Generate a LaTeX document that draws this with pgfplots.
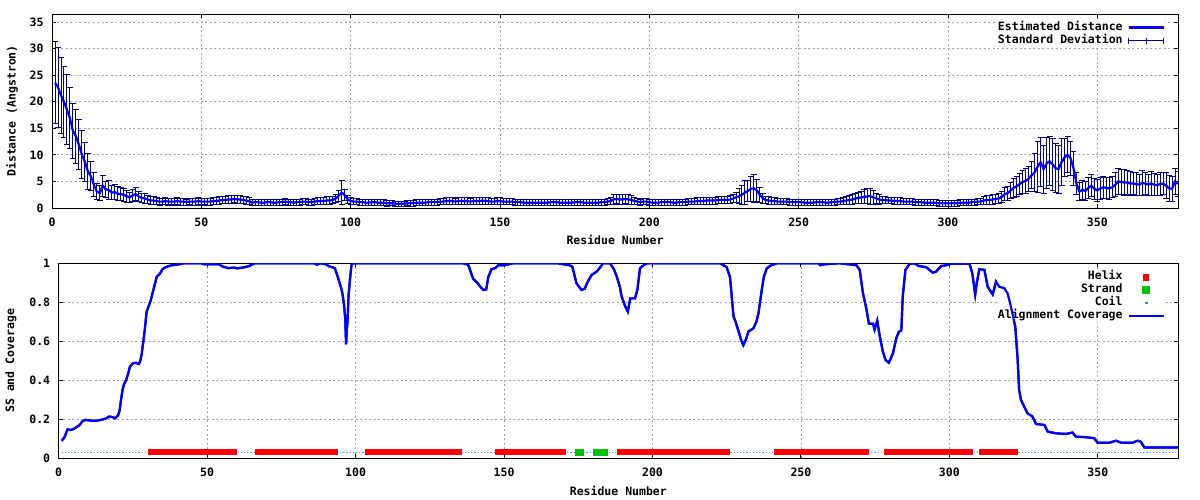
\documentclass[border=0pt]{standalone}
\usepackage{fontspec}
\setmainfont{DejaVu Sans Mono}
\usepackage{pgfplots}
\usepackage{pgfplotstable}
\pgfplotsset{compat=1.18}
\definecolor{lineblue}{RGB}{0,0,255}
\definecolor{barblue}{RGB}{0,0,139}
\definecolor{coilblue}{RGB}{30,144,255}
\definecolor{strandgreen}{RGB}{0,192,0}
\definecolor{helixred}{RGB}{255,0,0}
\definecolor{gridgray}{RGB}{160,160,160}

\pgfplotstableread{
x y e
1 23.6 7.7
2 22.7 7.5
3 21.2 7.1
4 20.0 6.7
5 18.5 6.6
6 16.9 5.7
7 14.5 5.2
8 13.5 5.1
9 11.9 4.7
10 10.1 4.5
11 8.7 3.7
12 6.9 3.4
13 6.0 2.7
14 4.4 2.3
15 3.1 1.5
16 2.8 1.4
17 4.2 2.0
18 3.5 1.5
19 3.4 1.8
20 2.9 1.3
21 3.0 1.4
22 2.7 1.3
23 2.6 1.2
24 2.5 1.2
25 2.2 1.1
26 2.0 1.0
27 2.4 1.1
28 2.6 1.2
29 2.2 1.0
30 1.9 0.9
31 1.8 0.9
32 1.6 0.8
33 1.4 0.7
34 1.4 0.7
35 1.3 0.65
36 1.2 0.65
37 1.2 0.6
38 1.3 0.65
39 1.2 0.65
40 1.2 0.6
41 1.2 0.65
42 1.3 0.7
43 1.2 0.65
44 1.2 0.65
45 1.1 0.6
46 1.2 0.6
47 1.2 0.65
48 1.2 0.65
49 1.3 0.7
50 1.2 0.65
51 1.2 0.6
52 1.2 0.65
53 1.2 0.65
54 1.3 0.7
55 1.3 0.65
56 1.4 0.7
57 1.5 0.7
58 1.5 0.7
59 1.6 0.7
60 1.6 0.75
61 1.7 0.75
62 1.6 0.75
63 1.6 0.7
64 1.5 0.7
65 1.4 0.7
66 1.3 0.65
67 1.0 0.6
68 1.1 0.6
69 1.1 0.6
70 1.0 0.6
71 1.0 0.6
72 1.1 0.6
73 1.1 0.6
74 1.0 0.6
75 1.0 0.6
76 1.1 0.6
77 1.1 0.6
78 1.2 0.6
79 1.1 0.6
80 1.1 0.6
81 1.0 0.6
82 1.1 0.6
83 1.1 0.6
84 1.2 0.6
85 1.2 0.6
86 1.1 0.6
87 1.1 0.6
88 1.2 0.6
89 1.3 0.65
90 1.3 0.65
91 1.3 0.7
92 1.4 0.7
93 1.4 0.7
94 1.5 0.7
95 1.8 0.8
96 2.3 1.0
97 2.9 2.3
98 2.4 1.0
99 1.6 0.7
100 1.3 0.6
101 1.2 0.55
102 1.2 0.55
103 1.1 0.55
104 1.1 0.55
105 1.0 0.55
106 1.0 0.55
107 1.1 0.55
108 1.1 0.55
109 1.0 0.55
110 1.0 0.55
111 1.0 0.55
112 0.9 0.55
113 0.9 0.5
114 0.9 0.5
115 0.8 0.5
116 0.8 0.5
117 0.8 0.5
118 0.8 0.5
119 0.9 0.5
120 0.9 0.55
121 0.9 0.55
122 1.0 0.55
123 1.0 0.55
124 1.0 0.55
125 1.0 0.55
126 1.1 0.55
127 1.1 0.55
128 1.1 0.55
129 1.1 0.6
130 1.2 0.6
131 1.2 0.6
132 1.3 0.6
133 1.3 0.6
134 1.3 0.6
135 1.2 0.6
136 1.3 0.6
137 1.3 0.6
138 1.3 0.6
139 1.3 0.6
140 1.2 0.6
141 1.3 0.6
142 1.3 0.6
143 1.3 0.6
144 1.4 0.65
145 1.3 0.6
146 1.3 0.6
147 1.2 0.6
148 1.2 0.6
149 1.3 0.6
150 1.3 0.6
151 1.2 0.6
152 1.2 0.6
153 1.2 0.6
154 1.2 0.6
155 1.1 0.55
156 1.1 0.55
157 1.1 0.55
158 1.0 0.55
159 1.0 0.55
160 1.0 0.55
161 1.0 0.55
162 1.0 0.55
163 1.0 0.55
164 1.0 0.55
165 1.0 0.55
166 1.0 0.55
167 1.1 0.55
168 1.1 0.55
169 1.1 0.55
170 1.0 0.55
171 1.0 0.55
172 1.0 0.55
173 1.0 0.55
174 1.0 0.55
175 1.1 0.55
176 1.1 0.55
177 1.1 0.55
178 1.0 0.55
179 1.0 0.55
180 1.0 0.55
181 1.0 0.55
182 1.0 0.55
183 1.0 0.55
184 1.1 0.55
185 1.1 0.6
186 1.2 0.6
187 1.3 0.7
188 1.6 0.9
189 1.7 0.9
190 1.6 0.9
191 1.6 0.9
192 1.7 0.9
193 1.6 0.9
194 1.5 0.8
195 1.3 0.7
196 1.2 0.6
197 1.1 0.6
198 1.2 0.6
199 1.2 0.6
200 1.1 0.6
201 1.0 0.6
202 1.0 0.6
203 1.0 0.6
204 1.1 0.6
205 1.1 0.6
206 1.1 0.6
207 1.1 0.6
208 1.0 0.6
209 1.0 0.6
210 1.1 0.6
211 1.1 0.6
212 1.1 0.6
213 1.2 0.6
214 1.2 0.6
215 1.2 0.6
216 1.3 0.6
217 1.3 0.6
218 1.3 0.6
219 1.4 0.65
220 1.4 0.65
221 1.4 0.65
222 1.4 0.65
223 1.5 0.7
224 1.5 0.7
225 1.5 0.7
226 1.5 0.7
227 1.6 0.7
228 1.8 0.8
229 2.0 1.0
230 2.2 1.4
231 2.5 1.8
232 2.9 2.2
233 3.2 2.0
234 3.6 2.4
235 3.7 2.6
236 3.3 2.0
237 2.5 1.4
238 1.8 0.9
239 1.5 0.7
240 1.4 0.7
241 1.3 0.6
242 1.3 0.6
243 1.2 0.6
244 1.2 0.6
245 1.2 0.6
246 1.2 0.6
247 1.1 0.6
248 1.1 0.6
249 1.1 0.6
250 1.1 0.6
251 1.1 0.6
252 1.0 0.6
253 1.0 0.6
254 1.0 0.6
255 1.0 0.6
256 1.1 0.6
257 1.1 0.6
258 1.1 0.6
259 1.0 0.6
260 1.0 0.6
261 1.1 0.6
262 1.1 0.6
263 1.2 0.6
264 1.2 0.6
265 1.3 0.65
266 1.4 0.8
267 1.5 0.85
268 1.6 0.9
269 1.8 0.9
270 1.9 1.0
271 2.0 1.2
272 2.1 1.3
273 2.2 1.4
274 2.2 1.5
275 2.0 1.3
276 1.8 1.0
277 1.6 0.9
278 1.5 0.7
279 1.5 0.7
280 1.4 0.6
281 1.4 0.6
282 1.3 0.6
283 1.3 0.6
284 1.3 0.6
285 1.2 0.6
286 1.2 0.6
287 1.2 0.6
288 1.2 0.6
289 1.1 0.6
290 1.1 0.6
291 1.1 0.6
292 1.0 0.6
293 1.0 0.6
294 1.0 0.6
295 1.0 0.6
296 1.0 0.6
297 0.9 0.6
298 0.9 0.6
299 0.9 0.6
300 0.9 0.6
301 0.9 0.6
302 0.9 0.6
303 0.9 0.6
304 1.0 0.6
305 1.0 0.6
306 1.0 0.6
307 1.0 0.6
308 1.1 0.6
309 1.1 0.6
310 1.2 0.6
311 1.2 0.6
312 1.4 0.8
313 1.5 0.8
314 1.5 0.9
315 1.6 0.9
316 1.7 0.9
317 1.8 1.0
318 2.1 1.1
319 2.6 1.2
320 2.8 1.3
321 3.3 1.5
322 3.8 1.8
323 4.1 1.9
324 4.5 2.0
325 4.9 2.2
326 5.1 2.3
327 5.5 2.4
328 6.2 2.6
329 6.7 3.5
330 7.8 4.8
331 8.6 4.6
332 7.3 4.5
333 8.4 4.8
334 8.8 4.6
335 8.2 4.9
336 7.5 4.6
337 7.3 4.5
338 8.6 4.4
339 9.5 3.5
340 10.0 3.4
341 9.4 3.2
342 7.5 3.2
343 4.6 2.0
344 3.1 1.7
345 3.4 1.7
346 3.2 1.8
347 3.8 2.0
348 4.2 2.1
349 3.6 2.0
350 3.3 2.0
351 3.7 2.0
352 3.9 2.1
353 3.8 2.0
354 3.7 2.0
355 3.9 2.0
356 4.4 2.2
357 5.0 2.4
358 4.9 2.3
359 4.8 2.4
360 4.8 2.3
361 4.6 2.2
362 4.6 2.0
363 4.5 2.2
364 4.4 2.0
365 4.7 2.4
366 4.6 2.1
367 4.4 2.0
368 4.6 2.2
369 4.4 2.1
370 4.3 2.0
371 4.5 2.2
372 4.6 2.0
373 4.2 2.4
374 3.7 2.5
375 3.6 2.3
376 5.0 2.5
377 4.5 2.4
}\distdata

\pgfplotstableread{
x y
1 0.089
2 0.11
3 0.149
4 0.145
5 0.15
6 0.16
7 0.17
8 0.19
9 0.197
10 0.195
11 0.193
13 0.193
15 0.2
16 0.205
17 0.214
18 0.212
19 0.205
20 0.22
20.5 0.244
21 0.30
21.5 0.35
22 0.38
22.7 0.40
23.5 0.44
24 0.47
25 0.487
26 0.49
27 0.484
27.5 0.50
28 0.54
28.5 0.60
29 0.66
29.6 0.75
30.3 0.78
31 0.81
32 0.87
32.5 0.90
33 0.93
34 0.945
35 0.97
36 0.98
38 0.99
40 0.993
42 1.0
48 1.0
49 0.995
54 0.995
55 0.985
57 0.975
59 0.978
60 0.974
62 0.978
64 0.985
66 1.0
86 1.0
87 0.993
88 1.0
90 0.995
91 0.985
93 0.975
94 0.93
95 0.88
95.5 0.85
96 0.80
96.5 0.72
96.8 0.585
97 0.66
97.3 0.70
97.6 0.83
98.1 0.915
98.6 0.99
99 1.0
136 1.0
137 0.997
138 0.99
139.6 0.92
141 0.90
142 0.88
143 0.863
144 0.866
144.7 0.93
145.8 0.97
147 0.975
148 0.99
150 0.99
153 1.0
168 1.0
172 0.99
173 0.983
174.4 0.897
176.1 0.863
177.2 0.87
178 0.9
179.5 0.94
181 0.955
181.7 0.966
183.4 1.0
185.7 1.0
187 0.97
188 0.93
189 0.88
189.6 0.83
190.8 0.78
191.7 0.752
192.5 0.82
194.1 0.82
194.9 0.863
195.8 0.975
197 0.99
198.1 1.0
222.8 1.0
225 0.98
226.1 0.93
227.3 0.727
228 0.70
229 0.65
230 0.60
230.6 0.58
231.5 0.61
232.3 0.65
234 0.667
235 0.70
235.7 0.744
236.8 0.863
237.5 0.93
238.5 0.975
240 0.99
241.9 1.0
256 1.0
256.5 0.99
258 0.995
263 1.0
268.7 0.99
269.8 0.966
270.9 0.846
272 0.77
272.9 0.69
274.3 0.69
274.8 0.66
275.7 0.706
276.5 0.63
277.6 0.547
278.5 0.504
279.6 0.49
281 0.538
282.1 0.615
283 0.65
283.8 0.655
284.3 0.83
285.2 0.966
286.6 0.997
288.2 1.0
289.7 0.986
292.2 0.98
294.4 0.952
295.5 0.957
297.2 0.986
298.9 0.99
300 0.997
306.8 0.997
307.7 0.95
308.2 0.897
308.7 0.84
309.2 0.897
310.1 0.97
311.8 0.966
312.9 0.88
314.6 0.84
315.7 0.906
316.8 0.88
318.5 0.872
319.6 0.846
320.7 0.78
322.2 0.675
323 0.504
323.5 0.35
324.1 0.30
325.2 0.265
326.3 0.231
328 0.214
329.2 0.176
332 0.171
333.1 0.137
335.9 0.128
339.3 0.125
341.5 0.132
342.6 0.111
346 0.108
348.8 0.103
349.9 0.08
353.9 0.08
356.1 0.09
357.8 0.08
361.7 0.08
363.4 0.09
364.5 0.085
365.7 0.055
377 0.055
}\covdata

\pgfplotsset{
  gp/.style={
    scale only axis,
    xmin=0, xmax=377,
    xtick={0,50,100,150,200,250,300,350},
    grid=major,
    grid style={gridgray, dash pattern=on 2pt off 2.5pt, line width=0.8pt},
    axis line style={line width=0.9pt},
    tick style={black, line width=0.9pt},
    major tick length=4pt,
    /pgf/number format/assume math mode=true,
    tick label style={font=\fontsize{11.5}{13}\selectfont\bfseries},
    label style={font=\fontsize{11.5}{13}\selectfont\bfseries},
    xticklabel style={yshift=-6.5pt},
    yticklabel style={xshift=-5pt},
    legend cell align=right,
    legend plot pos=right,
    legend style={at={(1,1)}, anchor=north east, xshift=-13pt, yshift=-7.5pt,
      draw=none, fill=white, inner sep=0pt,
      font=\fontsize{11.5}{13}\selectfont\bfseries,
      nodes={inner sep=0.5pt, text height=8.3pt, text depth=2.4pt},
      row sep=1.3pt, column sep=4.5pt},
  }
}

\begin{document}
\bfseries
\begin{tikzpicture}
\path[use as bounding box] (0,0) rectangle (1200pt,500pt);

\begin{axis}[gp,
  at={(52pt,292pt)}, anchor=south west,
  width=1126pt, height=194pt,
  ymin=0, ymax=36.5,
  ytick={0,5,10,15,20,25,30,35},
  xlabel={Residue Number},
  ylabel={Distance (Angstron)},
  xlabel style={at={(axis description cs:0.5,-0.165)}, anchor=center},
  ylabel style={at={(axis description cs:-0.0355,0.5)}, anchor=center},
]
\addlegendimage{legend image code/.code={\draw[lineblue, line width=2.2pt] (0pt,0pt)--(35pt,0pt);}}
\addlegendentry{Estimated Distance}
\addlegendimage{legend image code/.code={\draw[barblue, line width=0.9pt] (0pt,0pt)--(35pt,0pt) (0pt,-3pt)--(0pt,3pt) (17.5pt,-3pt)--(17.5pt,3pt) (35pt,-3pt)--(35pt,3pt);}}
\addlegendentry{Standard Deviation}

\addplot[draw=none, mark=none, forget plot,
  error bars/.cd, y dir=both, y explicit,
  error bar style={draw=barblue, line width=0.9pt},
  error mark options={draw=barblue, rotate=90, mark size=3pt, line width=0.9pt}]
  table[x=x, y=y, y error=e] {\distdata};
\addplot[lineblue, line width=2.2pt, forget plot] table[x=x, y=y] {\distdata};
\end{axis}

\begin{axis}[gp,
  at={(58.7pt,41.7pt)}, anchor=south west,
  width=1119.3pt, height=195pt,
  ymin=0, ymax=1,
  ytick={0,0.2,0.4,0.6,0.8,1},
  xlabel={Residue Number},
  ylabel={SS and Coverage},
  xlabel style={at={(axis description cs:0.5,-0.166)}, anchor=center},
  ylabel style={at={(axis description cs:-0.0426,0.5)}, anchor=center},
]
\addlegendimage{legend image code/.code={\fill[helixred] (15pt,-3pt) rectangle (20pt,3pt);}}
\addlegendentry{Helix}
\addlegendimage{legend image code/.code={\fill[strandgreen] (14pt,-3.5pt) rectangle (21pt,3.5pt);}}
\addlegendentry{Strand}
\addlegendimage{legend image code/.code={\fill[coilblue] (17pt,-0.6pt) rectangle (18.2pt,0.6pt);}}
\addlegendentry{Coil}
\addlegendimage{legend image code/.code={\draw[lineblue, line width=2.2pt] (0pt,0pt)--(35pt,0pt);}}
\addlegendentry{Alignment Coverage}

% coil
\addplot[coilblue, line width=1pt, dash pattern=on 1.2pt off 2pt, forget plot] coordinates {(1,0.03) (377,0.03)};
% helices
\addplot[helixred, line width=6pt, forget plot] coordinates {(30,0.03) (60,0.03)};
\addplot[helixred, line width=6pt, forget plot] coordinates {(66,0.03) (94,0.03)};
\addplot[helixred, line width=6pt, forget plot] coordinates {(103,0.03) (136,0.03)};
\addplot[helixred, line width=6pt, forget plot] coordinates {(147,0.03) (171,0.03)};
\addplot[helixred, line width=6pt, forget plot] coordinates {(188,0.03) (226,0.03)};
\addplot[helixred, line width=6pt, forget plot] coordinates {(241,0.03) (273,0.03)};
\addplot[helixred, line width=6pt, forget plot] coordinates {(278,0.03) (308,0.03)};
\addplot[helixred, line width=6pt, forget plot] coordinates {(310,0.03) (323,0.03)};
% strands
\addplot[strandgreen, line width=6.7pt, forget plot] coordinates {(174,0.03) (177,0.03)};
\addplot[strandgreen, line width=6.7pt, forget plot] coordinates {(180,0.03) (185,0.03)};
% coverage
\addplot[lineblue, line width=2.2pt, forget plot] table[x=x, y=y] {\covdata};
\end{axis}

% same axis again, drawn over the legend box so that the coverage line passes over it
\begin{axis}[
  scale only axis, hide axis,
  at={(58.7pt,41.7pt)}, anchor=south west,
  width=1119.3pt, height=195pt,
  xmin=0, xmax=377, ymin=0, ymax=1,
]
\addplot[lineblue, line width=2.2pt, forget plot] table[x=x, y=y] {\covdata};
\end{axis}
\end{tikzpicture}
\end{document}
